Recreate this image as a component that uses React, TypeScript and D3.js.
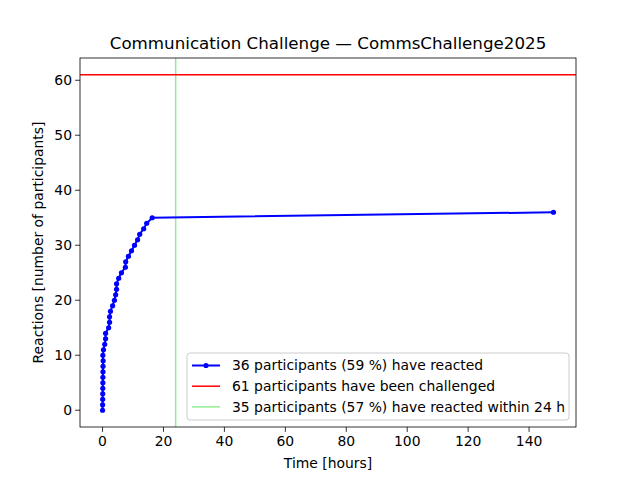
import * as d3 from 'd3';
import * as React from 'react';

// reaction times (hours since the challenge) and the cumulative count
const hours: number[] = [
    0.0, 0.02, 0.04, 0.06, 0.08, 0.1, 0.12, 0.14, 0.16, 0.2,
    0.1, 0.3, 0.7, 1.0, 1.0, 2.0, 2.3, 2.3, 2.6, 3.3,
    3.9, 4.3, 4.6, 4.6, 5.3, 6.2, 7.5, 7.6, 8.5, 9.5,
    10.5, 11.5, 12.2, 13.5, 14.5, 16.3, 148.0,
];
const reactions: number[] = [
    0, 1, 2, 3, 4, 5, 6, 7, 8, 9,
    10, 11, 12, 13, 14, 15, 16, 17, 18, 19,
    20, 21, 22, 23, 24, 25, 26, 27, 28, 29,
    30, 31, 32, 33, 34, 35, 36,
];
const challenged = 61;
const deadlineHours = 24;
const xTicks = [0, 20, 40, 60, 80, 100, 120, 140];
const yTicks = [0, 10, 20, 30, 40, 50, 60];
const legendLabels = [
    '36 participants (59 %) have reacted',
    '61 participants have been challenged',
    '35 participants (57 %) have reacted within 24 h',
];
const legendColors = ['#0000ff', '#ff0000', '#90ee90'];

const width = 640;
const height = 480;
const margin = { left: 80, right: 64, top: 58, bottom: 53 };
const font = '"DejaVu Sans", sans-serif';

export default function App() {
    const x0 = margin.left;
    const x1 = width - margin.right;
    const y0 = height - margin.bottom;
    const y1 = margin.top;

    // matplotlib-style 5% margins
    const xMax = d3.max(hours) as number;
    const xPad = xMax * 0.05;
    const x = d3.scaleLinear().domain([-xPad, xMax + xPad]).range([x0, x1]);
    const yPad = challenged * 0.05;
    const y = d3.scaleLinear().domain([-yPad, challenged + yPad]).range([y0, y1]);

    const points = hours.map((h, i) => [h, reactions[i]] as [number, number]);
    const line = d3.line<[number, number]>().x(d => x(d[0])).y(d => y(d[1]));

    const legendW = 382;
    const legendH = 67;
    const legendX = x1 - 7 - legendW;
    const legendY = y0 - 7 - legendH;

    return (
        <div style={{ position: 'fixed', left: 0, top: 0 }}>
            <svg width={width} height={height} style={{ display: 'block', background: '#fff' }} fontFamily={font}>
                <rect x={0} y={0} width={width} height={height} fill="#fff" />
                <defs>
                    <clipPath id="plot">
                        <rect x={x0} y={y1} width={x1 - x0} height={y0 - y1} />
                    </clipPath>
                </defs>
                <g clipPath="url(#plot)">
                    <line x1={x(deadlineHours)} x2={x(deadlineHours)} y1={y1} y2={y0} stroke={legendColors[2]} strokeWidth={1.5} />
                    <path d={line(points) || ''} fill="none" stroke={legendColors[0]} strokeWidth={2} />
                    {points.map((p, i) => (
                        <circle key={i} cx={x(p[0])} cy={y(p[1])} r={2.6} fill={legendColors[0]} />
                    ))}
                    <line x1={x0} x2={x1} y1={y(challenged)} y2={y(challenged)} stroke={legendColors[1]} strokeWidth={1.5} />
                </g>
                <rect x={x0} y={y1} width={x1 - x0} height={y0 - y1} fill="none" stroke="#000" strokeWidth={0.8} />
                {xTicks.map(t => (
                    <g key={t} transform={`translate(${x(t)},${y0})`}>
                        <line y1={0} y2={4.9} stroke="#000" strokeWidth={0.8} />
                        <text y={19} textAnchor="middle" fontSize={13.9}>{t}</text>
                    </g>
                ))}
                {yTicks.map(t => (
                    <g key={t} transform={`translate(${x0},${y(t)})`}>
                        <line x1={0} x2={-4.9} stroke="#000" strokeWidth={0.8} />
                        <text x={-8} dy="0.35em" textAnchor="end" fontSize={13.9}>{t}</text>
                    </g>
                ))}
                <text x={(x0 + x1) / 2} y={468} textAnchor="middle" fontSize={13.9}>Time [hours]</text>
                <text transform={`translate(43,${(y0 + y1) / 2}) rotate(-90)`} textAnchor="middle" fontSize={13.9}>
                    Reactions [number of participants]
                </text>
                <text x={(x0 + x1) / 2} y={49} textAnchor="middle" fontSize={16.7}>
                    Communication Challenge — CommsChallenge2025
                </text>
                <g transform={`translate(${legendX},${legendY})`}>
                    <rect x={0} y={0} width={legendW} height={legendH} rx={3} fill="#fff" fillOpacity={0.8} stroke="#ccc" strokeWidth={1} />
                    {legendLabels.map((label, i) => (
                        <g key={label} transform={`translate(0,${12.5 + i * 20.7})`}>
                            <line x1={5} x2={33} y1={0} y2={0} stroke={legendColors[i]} strokeWidth={i === 0 ? 2 : 1.5} />
                            {i === 0 && <circle cx={19} cy={0} r={2.6} fill={legendColors[0]} />}
                            <text x={45} dy="0.35em" fontSize={13.9}>{label}</text>
                        </g>
                    ))}
                </g>
            </svg>
        </div>
    );
}
